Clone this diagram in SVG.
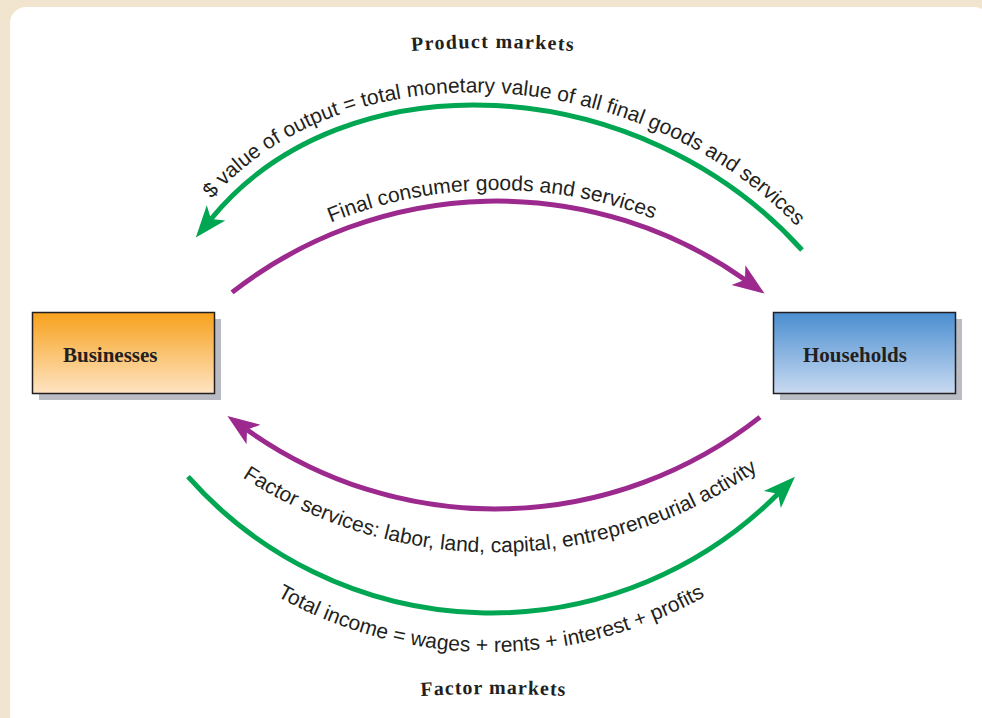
<svg xmlns="http://www.w3.org/2000/svg" width="982" height="718" viewBox="0 0 982 718">
  <style>
    .lbl { font-family: "Liberation Sans", Arial, sans-serif; font-size: 21px; fill: #231f20; }
    .title { font-family: "Liberation Serif", "Times New Roman", serif; font-weight: bold; font-size: 20px; fill: #231f20; }
    .node-text { font-family: "Liberation Serif", "Times New Roman", serif; font-weight: bold; font-size: 21px; fill: #231f20; }
    .box { stroke: #231f20; stroke-width: 1.5; }
    .shadow { fill: #b9bcc3; }
    .flow { fill: none; stroke-width: 5; stroke-linecap: butt; }
    .green { stroke: #00a651; }
    .purple { stroke: #9c2a8e; }
  </style>
  <defs>
    <linearGradient id="gradOrange" x1="0" y1="0" x2="0" y2="1">
      <stop offset="0" stop-color="#f7a11c"/>
      <stop offset="1" stop-color="#fee4c3"/>
    </linearGradient>
    <linearGradient id="gradBlue" x1="0" y1="0" x2="0" y2="1">
      <stop offset="0" stop-color="#4a8ed0"/>
      <stop offset="1" stop-color="#c9daf1"/>
    </linearGradient>
    <marker id="arrowGreen" markerUnits="userSpaceOnUse" markerWidth="40" markerHeight="30" viewBox="-10 -15 40 30" refX="0" refY="0" orient="auto">
      <path d="M24,0 L-8,-12 L0,0 L-8,12 Z" fill="#00a651"/>
    </marker>
    <marker id="arrowPurple" markerUnits="userSpaceOnUse" markerWidth="40" markerHeight="30" viewBox="-10 -15 40 30" refX="0" refY="0" orient="auto">
      <path d="M24,0 L-8,-12 L0,0 L-8,12 Z" fill="#9c2a8e"/>
    </marker>
    <!-- baselines for the curved labels -->
    <path id="tpOutput" d="M180,238 L201.7,211.4 C335,40 650,57 810.6,241.7 L830,264"/>
    <path id="tpFinal" d="M250,265.7 A441,441 0 0 1 744,265.7"/>
    <path id="tpFactor" d="M205,450 A462,462 0 0 0 785,450"/>
    <path id="tpIncome" d="M250,580 A439,439 0 0 0 732,580"/>
    <path id="tpProduct" d="M400,52 Q493,44 586,52"/>
    <path id="tpFactorMk" d="M405,697 Q493,691 582,697"/>
  </defs>

  <!-- page background and panel -->
  <rect x="0" y="0" width="982" height="718" fill="#f2e5cf"/>
  <rect x="10" y="7" width="980" height="730" rx="16" fill="#ffffff"/>

  <!-- market titles -->
  <text class="title" letter-spacing="1.3"><textPath href="#tpProduct" startOffset="50%" text-anchor="middle">Product markets</textPath></text>
  <text class="title" letter-spacing="1"><textPath href="#tpFactorMk" startOffset="50%" text-anchor="middle">Factor markets</textPath></text>

  <!-- nodes -->
  <g id="businesses">
    <rect class="shadow" x="39" y="319" width="182" height="81"/>
    <rect class="box" x="32.5" y="312.5" width="182" height="81" fill="url(#gradOrange)"/>
    <text class="node-text" x="63" y="362">Businesses</text>
  </g>
  <g id="households">
    <rect class="shadow" x="780" y="319" width="182" height="81"/>
    <rect class="box" x="773.5" y="312.5" width="182" height="81" fill="url(#gradBlue)"/>
    <text class="node-text" x="803" y="362">Households</text>
  </g>

  <!-- connectors -->
  <g id="connectors">
    <path class="flow green" d="M802,250 C640,70 345,55 211,219" marker-end="url(#arrowGreen)"/>
    <path class="flow purple" d="M232,292.4 A430,430 0 0 1 745,279.7" marker-end="url(#arrowPurple)"/>
    <path class="flow purple" d="M760,417.1 A428,428 0 0 1 247,429.8" marker-end="url(#arrowPurple)"/>
    <path class="flow green" d="M188,476.7 A405,405 0 0 0 778,493.8" marker-end="url(#arrowGreen)"/>
  </g>

  <!-- connector labels -->
  <g id="labels">
    <text class="lbl"><textPath href="#tpOutput" startOffset="50%" text-anchor="middle">$ value of output = total monetary value of all final goods and services</textPath></text>
    <text class="lbl"><textPath href="#tpFinal" startOffset="49%" text-anchor="middle">Final consumer goods and services</textPath></text>
    <text class="lbl"><textPath href="#tpFactor" startOffset="51%" text-anchor="middle">Factor services: labor, land, capital, entrepreneurial activity</textPath></text>
    <text class="lbl"><textPath href="#tpIncome" startOffset="50%" text-anchor="middle">Total income = wages + rents + interest + profits</textPath></text>
  </g>
</svg>
